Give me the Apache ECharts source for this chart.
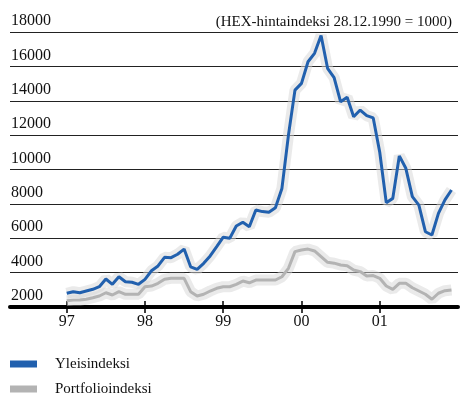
<!DOCTYPE html>
<html>
<head>
<meta charset="utf-8">
<script src="https://cdn.jsdelivr.net/npm/echarts@6/dist/echarts.min.js"></script>
<style>
  html, body { margin: 0; padding: 0; background: #fff; }
  #chart { width: 474px; height: 400px; }
</style>
</head>
<body>
<div id="chart"></div>
<script>
// monthly values, 1/1997 .. 12/2001
var yleisindeksi = [
  2800, 2890, 2830, 2930, 3030, 3180, 3630, 3320, 3760, 3470, 3440, 3320,
  3610, 4110, 4390, 4890, 4870, 5070, 5370, 4340, 4190, 4540, 4970, 5510,
  6060, 6000, 6710, 6930, 6670, 7640, 7550, 7510, 7780, 8900, 12000, 14620,
  15010, 16270, 16760, 17800, 15890, 15350, 13940, 14200, 13070, 13460, 13130, 13000,
  11000, 8070, 8320, 10790, 10070, 8420, 7930, 6380, 6190, 7450, 8230, 8810
];
var portfolioindeksi = [
  2370, 2400, 2410, 2450, 2540, 2640, 2830, 2700, 2890, 2740, 2740, 2740,
  3180, 3220, 3380, 3610, 3670, 3670, 3670, 2890, 2640, 2740, 2930, 3090,
  3180, 3180, 3320, 3510, 3410, 3570, 3570, 3570, 3570, 3760, 4250, 5220,
  5320, 5370, 5260, 4930, 4600, 4550, 4440, 4400, 4150, 4060, 3800, 3830,
  3670, 3220, 3030, 3380, 3380, 3120, 2930, 2740, 2450, 2800, 2950, 2990
];
var yearLabels = ['97', '98', '99', '00', '01'];
var yearTicks = [0, 12, 24, 36, 48];

var font = 'Liberation Serif';
var blue = '#2160ae';
var grey = '#b3b3b3';

function pairs(arr) {
  return arr.map(function (v, i) { return [i, v]; });
}

var chart = echarts.init(document.getElementById('chart'));

var xBase = {
  type: 'value',
  min: -8.7,
  max: 60,
  splitLine: { show: false }
};

var option = {
  animation: false,
  backgroundColor: '#fff',
  title: {
    text: '(HEX-hintaindeksi 28.12.1990 = 1000)',
    right: 17,
    top: 10,
    textStyle: { fontFamily: font, fontSize: 15, fontWeight: 'normal', color: '#111' }
  },
  grid: { left: 10, right: 16, top: 32, bottom: 93 },
  legend: {
    orient: 'vertical',
    left: 10,
    top: 356,
    padding: 0,
    icon: 'rect',
    itemWidth: 27,
    itemHeight: 7,
    itemGap: 9,
    data: ['Yleisindeksi', 'Portfolioindeksi'],
    textStyle: { fontFamily: font, fontSize: 15, color: '#111', lineHeight: 16, padding: [0, 0, 0, 13] }
  },
  xAxis: [
    Object.assign({}, xBase, {
      axisLine: { show: true, onZero: false, lineStyle: { color: '#000', width: 4 } },
      axisTick: { show: true, length: 6, lineStyle: { color: '#000', width: 1.5 }, customValues: yearTicks },
      axisLabel: {
        customValues: yearTicks,
        margin: 7,
        fontFamily: font,
        fontSize: 16,
        color: '#111',
        formatter: function (v) { return yearLabels[yearTicks.indexOf(v)]; }
      }
    }),
    Object.assign({}, xBase, {
      position: 'bottom',
      axisLine: { show: false },
      axisTick: { show: true, inside: true, length: 6, lineStyle: { color: '#000', width: 1.5 }, customValues: yearTicks },
      axisLabel: { show: false }
    })
  ],
  yAxis: {
    type: 'value',
    min: 2000,
    max: 18000,
    interval: 2000,
    axisLine: { show: false },
    axisTick: { show: false },
    splitLine: { lineStyle: { color: '#222', width: 1 } },
    axisLabel: {
      inside: true,
      margin: 1,
      align: 'left',
      verticalAlign: 'bottom',
      padding: [0, 0, 3, 0],
      fontFamily: font,
      fontSize: 16,
      color: '#111',
      showMinLabel: true,
      showMaxLabel: true,
      formatter: function (v) { return String(v); }
    }
  },
  series: [
    {
      name: 'halo1', type: 'line', data: pairs(portfolioindeksi), symbol: 'none', silent: true,
      lineStyle: { color: '#d6d6d6', width: 11, opacity: 0.5 }, z: 1
    },
    {
      name: 'halo2', type: 'line', data: pairs(yleisindeksi), symbol: 'none', silent: true,
      lineStyle: { color: '#d6d6d6', width: 11, opacity: 0.5 }, z: 1
    },
    {
      name: 'Portfolioindeksi', type: 'line', data: pairs(portfolioindeksi), symbol: 'none',
      itemStyle: { color: grey }, lineStyle: { color: grey, width: 3 }, z: 3
    },
    {
      name: 'Yleisindeksi', type: 'line', data: pairs(yleisindeksi), symbol: 'none',
      itemStyle: { color: blue }, lineStyle: { color: blue, width: 3 }, z: 4
    }
  ]
};

chart.setOption(option);
</script>
</body>
</html>
